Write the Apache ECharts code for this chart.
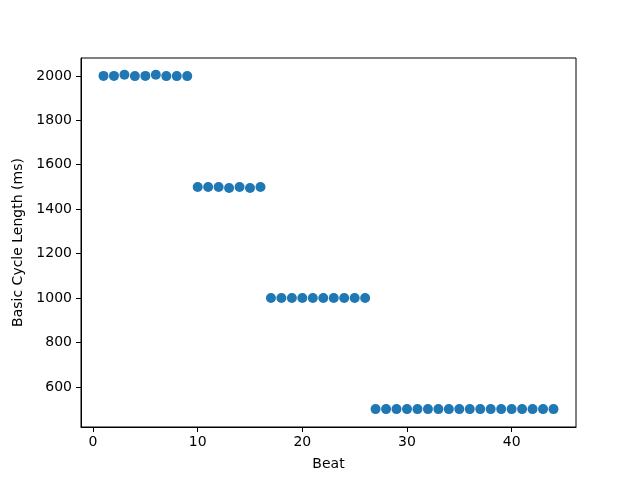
<!DOCTYPE html>
<html>
<head>
<meta charset="utf-8">
<script src="https://cdn.jsdelivr.net/npm/echarts@6/dist/echarts.min.js"></script>
<style>
    html, body { margin: 0; padding: 0; background: #fff; }
    #chart { width: 640px; height: 480px; }
</style>
</head>
<body>
<div id="chart"></div>
<script>
// 数据：每一拍的基础周期长度
const beats = [];
for (let i = 1; i <= 44; i++) beats.push(i);
const cycleLengths = [
    2000, 2000, 2005, 1999, 2000, 2005, 1999, 1999, 1999,
    1500, 1500, 1500, 1495, 1500, 1495, 1500,
    1000, 1000, 1000, 1000, 1000, 1000, 1000, 1000, 1000, 1000,
    500, 500, 500, 500, 500, 500, 500, 500, 500,
    500, 500, 500, 500, 500, 500, 500, 500, 500
];
const xTicks = [0, 10, 20, 30, 40];
const yTicks = [600, 800, 1000, 1200, 1400, 1600, 1800, 2000];

(function () {
    let myChart = echarts.init(document.getElementById('chart'));
    let points = beats.map((b, i) => [b, cycleLengths[i]]);
    let font = 'DejaVu Sans';
    let plain = function (v) { return String(v); };

    let option = {
        animation: false,
        grid: {
            left: 81,
            right: 64,
            top: 58,
            bottom: 53,
            show: true,
            borderColor: '#000',
            borderWidth: 1,
            containLabel: false
        },
        xAxis: {
            type: 'value',
            min: -1.15,
            max: 46.15,
            name: 'Beat',
            nameLocation: 'middle',
            nameGap: 30,
            nameTextStyle: { color: '#000', fontSize: 14, fontFamily: font },
            axisLine: { show: true, onZero: false, lineStyle: { color: '#000', width: 1 } },
            axisTick: { show: true, length: 5, inside: false, customValues: xTicks, lineStyle: { color: '#000' } },
            axisLabel: { customValues: xTicks, formatter: plain, color: '#000', fontSize: 14, fontFamily: font, margin: 8 },
            splitLine: { show: false }
        },
        yAxis: {
            type: 'value',
            min: 419.5,
            max: 2080.5,
            name: 'Basic Cycle Length (ms)',
            nameLocation: 'middle',
            nameGap: 54,
            nameTextStyle: { color: '#000', fontSize: 14, fontFamily: font },
            axisLine: { show: true, onZero: false, lineStyle: { color: '#000', width: 1 } },
            axisTick: { show: true, length: 5, inside: false, customValues: yTicks, lineStyle: { color: '#000' } },
            axisLabel: { customValues: yTicks, formatter: plain, color: '#000', fontSize: 14, fontFamily: font, margin: 9 },
            splitLine: { show: false }
        },
        series: [{
            type: 'scatter',
            data: points,
            symbol: 'circle',
            symbolSize: 10,
            itemStyle: { color: '#1f77b4', opacity: 1 }
        }]
    };

    myChart.setOption(option);
    window.addEventListener('resize', function () {
        myChart.resize();
    });
})();
</script>
</body>
</html>
